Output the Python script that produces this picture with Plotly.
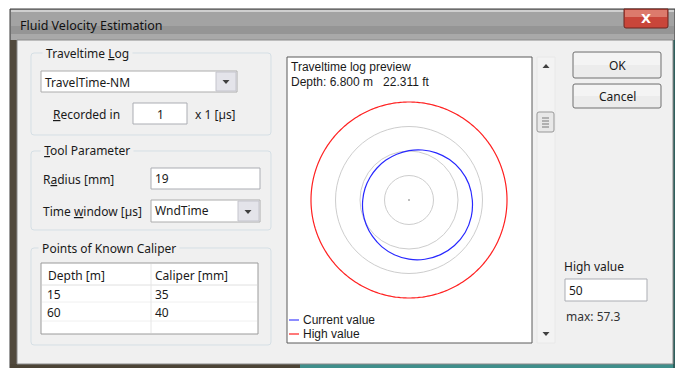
import numpy as np
import plotly.graph_objects as go

# ---------------- data ----------------
angles_deg = [0, 15, 30, 45, 60, 75, 90, 105, 120, 135, 150, 165,
              180, 195, 210, 225, 240, 255, 270, 285, 300, 315, 330, 345]
current_value = [32.3, 31.6, 30.5, 29.2, 27.8, 26.4, 25.2, 24.2, 23.5, 23.1, 23.0, 23.2,
                 23.6, 24.3, 25.2, 26.3, 27.6, 28.9, 30.2, 31.3, 32.2, 32.8, 33.1, 32.9]
high_value = 50
max_value = 57.3
grid_values = [12.5, 25, 37.5]
depth_m = 6.800
depth_ft = 22.311
caliper_depths = [15, 60]
caliper_values = [35, 40]
traveltime_log = "TravelTime-NM"
recorded_in = 1
radius_mm = 19
time_window = "WndTime"

W, H = 675, 368
UI = "Noto Sans"
TXT = "#1a1a1a"

fig = go.Figure()

shapes = []
ann = []


def rect(x0, y0, x1, y1, fill, line="rgba(0,0,0,0)", lw=1):
    shapes.append(dict(type="rect", x0=x0, y0=y0, x1=x1, y1=y1, xref="x", yref="y",
                       fillcolor=fill, line=dict(color=line, width=lw), layer="below"))


def hline(x0, x1, y, color, lw=1):
    shapes.append(dict(type="line", x0=x0, x1=x1, y0=y, y1=y, xref="x", yref="y",
                       line=dict(color=color, width=lw), layer="below"))


def vline(x, y0, y1, color, lw=1):
    shapes.append(dict(type="line", x0=x, x1=x, y0=y0, y1=y1, xref="x", yref="y",
                       line=dict(color=color, width=lw), layer="below"))


def path(d, fill, line="rgba(0,0,0,0)", lw=1):
    shapes.append(dict(type="path", path=d, xref="x", yref="y", fillcolor=fill,
                       line=dict(color=line, width=lw), layer="below"))


def text(x, y, s, size=12, color=TXT, family=UI, anchor="left", bg=None):
    a = dict(x=x, y=y, xref="x", yref="y", text=s, showarrow=False,
             xanchor=anchor, yanchor="middle",
             font=dict(family=family, size=size, color=color))
    if bg:
        a["bgcolor"] = bg
        a["borderpad"] = 0
    ann.append(a)


def down_arrow(cx, cy, color="#404040"):
    path(f"M {cx-3.5},{cy-2} L {cx+3.5},{cy-2} L {cx},{cy+2} Z", color)


def up_arrow(cx, cy, color="#404040"):
    path(f"M {cx-3.5},{cy+2} L {cx+3.5},{cy+2} L {cx},{cy-2} Z", color)


# ---------------- window frame ----------------
rect(10, 9, 675, 368, "#9f9f9f", "#3a3a3a", 1)
rect(11, 10, 674, 12, "#cfcfcf")
rect(11, 12, 674, 26, "#a3a3a3")
rect(11, 26, 674, 34, "#959595")
rect(11, 34, 674, 40, "#a9a9a9")
# side/bottom frame (glass showing background)
rect(10, 40, 17, 368, "#51493c")
rect(10, 364, 300, 368, "#4c4436")
rect(300, 364, 675, 368, "#3f8f8b")
rect(673, 40, 675, 368, "#2f5f5c")
# client area
rect(17, 40, 673, 364, "#f0f0f0", "#8a8a8a", 1)
text(18, 25, "Fluid Velocity Estimation", size=12.5, color="#111111")

# close button
path("M 624,9 L 668,9 L 668,26 Q 668,28 666,28 L 626,28 Q 624,28 624,26 Z",
     "#c9463a", "#6b2620", 1)
rect(625, 10, 667, 17, "#dc7a6c")
text(646, 18, "<b>X</b>", size=13, color="#ffffff", family="DejaVu Sans", anchor="center")

# ---------------- group boxes ----------------
def groupbox(x0, y0, x1, y1):
    path(f"M {x0+3},{y0} L {x1-3},{y0} Q {x1},{y0} {x1},{y0+3} L {x1},{y1-3} "
         f"Q {x1},{y1} {x1-3},{y1} L {x0+3},{y1} Q {x0},{y1} {x0},{y1-3} "
         f"L {x0},{y0+3} Q {x0},{y0} {x0+3},{y0} Z",
         "rgba(0,0,0,0)", "#d5dfe5", 1)


groupbox(31, 53, 271, 135)
groupbox(31, 151, 271, 230)
groupbox(31, 248, 271, 345)
text(42, 53, " Traveltime <u>L</u>og ", bg="#f0f0f0")
text(40, 150, " <u>T</u>ool Parameter ", bg="#f0f0f0")
text(38, 248, " Points of Known Caliper ", bg="#f0f0f0")

# combo 1
rect(41, 71, 237, 92, "#ffffff", "#acacac")
rect(216, 72, 236, 91, "#e4e4ea", "#c4c4cc")
down_arrow(226, 82)
text(43, 82, traveltime_log)

# recorded in
text(51, 114, "<u>R</u>ecorded in")
rect(133, 103, 187, 124, "#ffffff", "#abadb3")
text(160, 114, str(recorded_in), anchor="center")
text(193, 114, "x 1 [µs]")

# tool parameter
text(41, 179, "R<u>a</u>dius [mm]")
rect(151, 168, 260, 189, "#ffffff", "#abadb3")
text(153, 178, str(radius_mm))
text(41, 211, "Time <u>w</u>indow [µs]")
rect(151, 200, 260, 222, "#ffffff", "#acacac")
rect(238, 201, 259, 221, "#e4e4ea", "#c4c4cc")
down_arrow(248, 212)
text(153, 210, time_window)

# caliper table
rect(41, 263, 258, 334, "#ffffff", "#9a9a9a")
rect(42, 264, 257, 285, "#ffffff")
hline(42, 257, 285, "#e0e0e0")
hline(42, 257, 302, "#f0f0f0")
hline(42, 257, 321, "#f0f0f0")
vline(151, 264, 333, "#e6e6e6")
text(46, 275, "Depth [m]")
text(153, 275, "Caliper [mm]")
row_y = [294, 312]
for d, c, yy in zip(caliper_depths, caliper_values, row_y):
    text(45, yy, str(d))
    text(153, yy, str(c))

# ---------------- preview panel ----------------
rect(287, 57, 532, 343, "#ffffff", "#5a5a5a", 1)
text(289, 67, "Traveltime log preview", size=12, family="Liberation Sans")
text(289, 82, f"Depth: {depth_m:.3f} m   {depth_ft:.3f} ft", size=12, family="Liberation Sans")

# legend
hline(289, 299, 320, "#4040ff", 1.2)
text(301, 320, "Current value", size=12, family="Liberation Sans")
hline(289, 299, 334, "#ff2020", 1.2)
text(301, 334, "High value", size=12, family="Liberation Sans")

# scrollbar
rect(537, 57, 555, 343, "#f3f3f3", "#e8e8e8")
up_arrow(546, 66)
down_arrow(546, 334)
path("M 539,112 L 552,112 Q 554,112 554,114 L 554,130 Q 554,132 552,132 L 539,132 "
     "Q 537,132 537,130 L 537,114 Q 537,112 539,112 Z", "#e8e8e8", "#979797", 1)
for gy in (118, 121, 124, 127):
    hline(542, 549, gy, "#7a7a7a")

# ---------------- buttons ----------------
def button(x0, y0, x1, y1, label):
    path(f"M {x0+2},{y0} L {x1-2},{y0} Q {x1},{y0} {x1},{y0+2} L {x1},{y1-2} "
         f"Q {x1},{y1} {x1-2},{y1} L {x0+2},{y1} Q {x0},{y1} {x0},{y1-2} "
         f"L {x0},{y0+2} Q {x0},{y0} {x0+2},{y0} Z", "#ececec", "#707070", 1)
    rect(x0 + 1, y0 + 1, x1 - 1, (y0 + y1) / 2, "#f4f4f4")
    text((x0 + x1) / 2, (y0 + y1) / 2, label, anchor="center")


button(573, 52, 661, 78, "OK")
button(573, 84, 661, 108, "Cancel")

# high value
text(562, 266, "High value")
rect(565, 279, 647, 301, "#ffffff", "#abadb3")
text(567, 290, str(high_value))
text(564, 316, f"max: {max_value}", color="#333333")

# ---------------- polar preview ----------------
theta_full = list(np.linspace(0, 360, 361))
fig.add_trace(go.Scatterpolar(r=[high_value] * len(theta_full), theta=theta_full,
                              mode="lines", line=dict(color="#ff2020", width=1.2),
                              name="High value", showlegend=False, hoverinfo="skip"))
fig.add_trace(go.Scatterpolar(r=current_value + [current_value[0]],
                              theta=angles_deg + [360],
                              mode="lines", line=dict(color="#2828ff", width=1.2, shape="spline"),
                              name="Current value", showlegend=False))
fig.add_trace(go.Scatterpolar(r=[0], theta=[0], mode="markers",
                              marker=dict(size=2, color="#aaaaaa"), showlegend=False,
                              hoverinfo="skip"))

R_MAX = 52
cx, cy, pr = 409, 200, 98 * R_MAX / high_value
fig.update_layout(
    polar=dict(
        domain=dict(x=[(cx - pr) / W, (cx + pr) / W], y=[1 - (cy + pr) / H, 1 - (cy - pr) / H]),
        bgcolor="rgba(0,0,0,0)",
        radialaxis=dict(range=[0, R_MAX], tickvals=grid_values, showticklabels=False,
                        ticks="", showline=False, gridcolor="#cdcdcd", gridwidth=1),
        angularaxis=dict(showgrid=False, showticklabels=False, ticks="", showline=False),
    )
)

fig.update_layout(
    width=W, height=H,
    margin=dict(l=0, r=0, t=0, b=0),
    paper_bgcolor="#ffffff",
    plot_bgcolor="rgba(0,0,0,0)",
    xaxis=dict(range=[0, W], visible=False, fixedrange=True),
    yaxis=dict(range=[H, 0], visible=False, fixedrange=True),
    shapes=shapes,
    annotations=ann,
    showlegend=False,
)

fig.write_html("out.html", config={"displayModeBar": False},
               post_script="document.body.style.margin='0';document.body.style.overflow='hidden';")
